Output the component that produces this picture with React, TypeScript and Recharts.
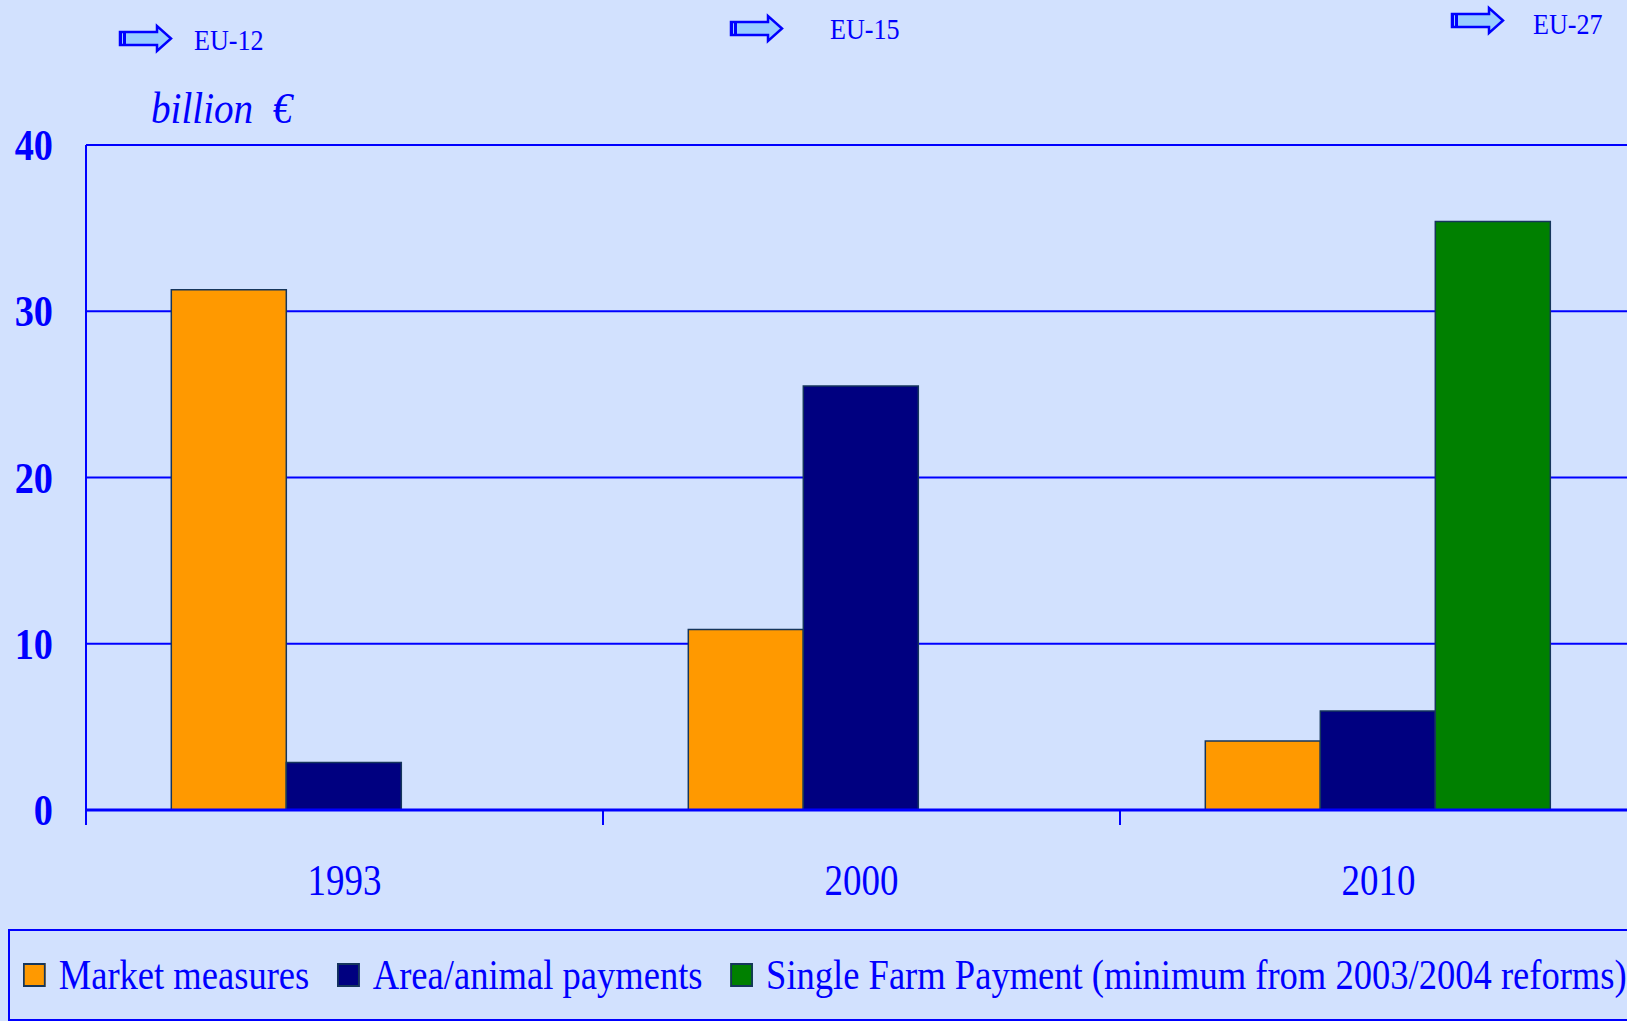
import React from "react";
import { BarChart, Bar, XAxis, YAxis, CartesianGrid, Legend } from "recharts";

const years = ["1993", "2000", "2010"];
const marketMeasures = [31.3, 10.85, 4.15];
const areaAnimalPayments = [2.85, 25.5, 5.95];
const singleFarmPayment: (number | null)[] = [null, null, 35.4];
const yTicks = [0, 10, 20, 30, 40];
const enlargements = ["EU-12", "EU-15", "EU-27"];

const data = years.map((year, i) => ({
  year,
  market: marketMeasures[i],
  area: areaAnimalPayments[i],
  sfp: singleFarmPayment[i],
}));

const series = [
  { key: "market", name: "Market measures", color: "#FF9900" },
  { key: "area", name: "Area/animal payments", color: "#000080" },
  { key: "sfp", name: "Single Farm Payment (minimum from 2003/2004 reforms)", color: "#008000" },
];

const BLUE = "#0000FF";
const BG = "#D2E1FE";
const OUTLINE = "#16365C";
const SERIF = "'Liberation Serif', 'Times New Roman', serif";
const SQUEEZE = 0.87; // the original text is a bit narrower than Times

const W = 1627;
const H = 1021;
const CHART_W = 1637;
const Y_W = 86;
const HALF_BAND = (CHART_W - Y_W) / years.length / 2;

// arrow + label spots along the top
const markerSpots = [
  { ax: 119, ay: 25, tx: 194, ty: 50 },
  { ax: 730, ay: 15, tx: 830, ty: 39 },
  { ax: 1451, ay: 7, tx: 1533, ty: 34 },
];

const YTick = ({ x, y, payload }: any) => (
  <text
    transform={`translate(${x},${y + 15}) scale(${SQUEEZE},1)`}
    textAnchor="end"
    fill={BLUE}
    fontSize={44}
    fontWeight="bold"
    fontFamily={SERIF}
  >
    {payload.value}
  </text>
);

const XTick = ({ x, y, payload }: any) => {
  const edge = x - (payload.offset || HALF_BAND);
  return (
    <g>
      <line x1={edge} x2={edge} y1={y} y2={y + 15} stroke={BLUE} strokeWidth={2} />
      <text
        transform={`translate(${x},${y + 85}) scale(0.84,1)`}
        textAnchor="middle"
        fill={BLUE}
        fontSize={44}
        fontFamily={SERIF}
      >
        {payload.value}
      </text>
    </g>
  );
};

const LegendBox = () => (
  <div
    style={{
      position: "relative",
      width: 1640,
      height: 92,
      border: `2px solid ${BLUE}`,
      boxSizing: "border-box",
    }}
  >
    <div
      style={{
        position: "absolute",
        left: 13,
        top: 0,
        bottom: 0,
        display: "flex",
        alignItems: "center",
        transform: `scaleX(${SQUEEZE})`,
        transformOrigin: "left center",
        whiteSpace: "nowrap",
        fontFamily: SERIF,
        fontSize: 42,
        lineHeight: 1,
        color: BLUE,
      }}
    >
      {series.map((s) => (
        <span key={s.key} style={{ display: "flex", alignItems: "center", marginRight: 32 }}>
          <span
            style={{
              display: "inline-block",
              width: 26,
              height: 24,
              background: s.color,
              border: `2px solid ${OUTLINE}`,
              boxSizing: "border-box",
              marginRight: 15,
            }}
          />
          <span>{s.name}</span>
        </span>
      ))}
    </div>
  </div>
);

const Arrow = ({ x, y }: { x: number; y: number }) => (
  <g transform={`translate(${x},${y})`}>
    <path
      d="M1,7 L38,7 L38,1 L52,13.5 L38,26 L38,20 L1,20 Z"
      fill="#99CCFF"
      stroke={BLUE}
      strokeWidth={2.5}
      strokeLinejoin="miter"
    />
    <rect x={0} y={7} width={3} height={13} fill={BLUE} />
    <rect x={4} y={7} width={3} height={13} fill={BLUE} />
  </g>
);

export default function App() {
  return (
    <div
      style={{
        position: "absolute",
        left: 0,
        top: 0,
        width: W,
        height: H,
        overflow: "hidden",
        background: BG,
      }}
    >
      <BarChart
        width={CHART_W}
        height={H}
        data={data}
        margin={{ top: 145, right: 0, left: 0, bottom: 0 }}
        barCategoryGap="16.5%"
        barGap={0}
      >
        <CartesianGrid vertical={false} stroke={BLUE} strokeWidth={2} />
        <XAxis
          dataKey="year"
          height={119}
          tickLine={false}
          tickSize={0}
          tickMargin={0}
          axisLine={{ stroke: BLUE, strokeWidth: 3 }}
          tick={<XTick />}
          interval={0}
        />
        <YAxis
          width={Y_W}
          domain={[0, 40]}
          ticks={yTicks}
          tickLine={false}
          tickSize={0}
          tickMargin={33}
          axisLine={{ stroke: BLUE, strokeWidth: 2 }}
          tick={<YTick />}
        />
        <Legend
          verticalAlign="bottom"
          align="left"
          content={() => <LegendBox />}
          wrapperStyle={{ left: 8, bottom: 0, width: 1640 }}
        />
        {series.map((s) => (
          <Bar
            key={s.key}
            dataKey={s.key}
            name={s.name}
            fill={s.color}
            stroke={OUTLINE}
            strokeWidth={1.5}
            isAnimationActive={false}
          />
        ))}
      </BarChart>

      <svg
        width={W}
        height={H}
        style={{ position: "absolute", left: 0, top: 0, pointerEvents: "none" }}
      >
        {enlargements.map((label, i) => {
          const p = markerSpots[i];
          return (
            <g key={label}>
              <Arrow x={p.ax} y={p.ay} />
              <text
                transform={`translate(${p.tx},${p.ty}) scale(0.9,1)`}
                fill={BLUE}
                fontSize={29}
                fontFamily={SERIF}
              >
                {label}
              </text>
            </g>
          );
        })}
        <text
          transform={`translate(151,123) scale(${SQUEEZE},1)`}
          fill={BLUE}
          fontSize={45}
          fontStyle="italic"
          fontFamily={SERIF}
          style={{ whiteSpace: "pre" }}
        >
          {"billion  €"}
        </text>
      </svg>
    </div>
  );
}
